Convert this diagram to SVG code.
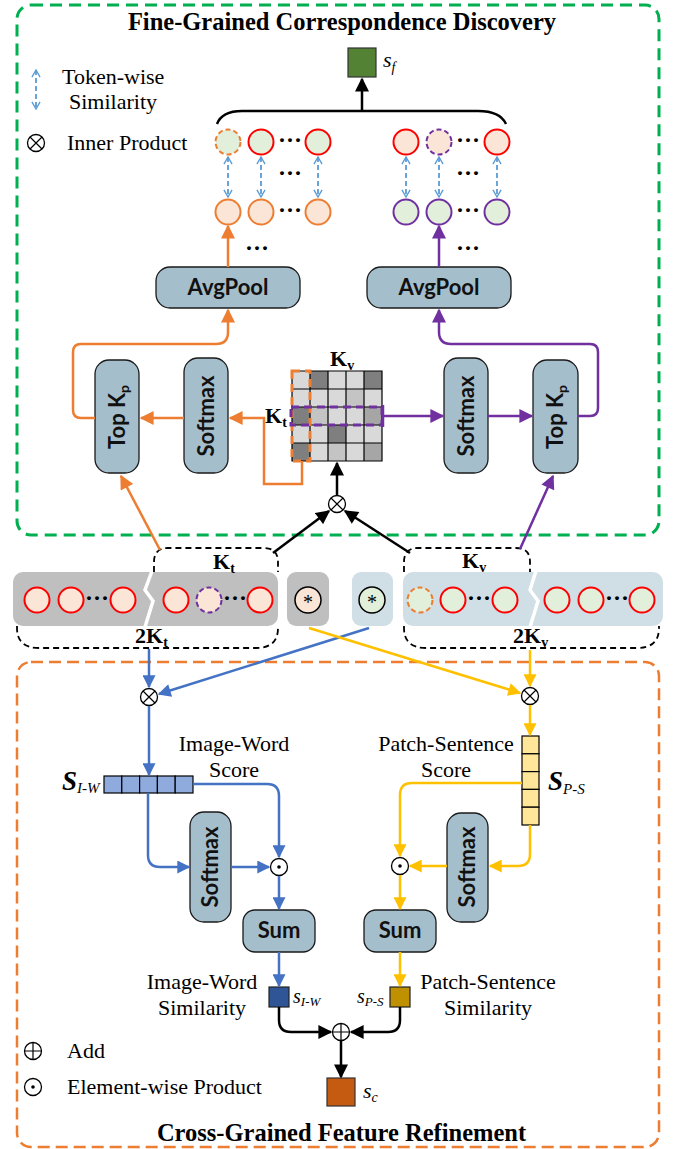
<svg xmlns="http://www.w3.org/2000/svg" width="683" height="1149" viewBox="0 0 683 1149">
<defs>
<style>
.sf{font-family:"Liberation Serif","Times New Roman",serif;fill:#000}
.lb{font-size:22px}
.ti{font-size:24.5px;font-weight:bold}
.kb{font-size:22px;font-weight:bold}
.it{font-style:italic}
.box{fill:#A5BECB;stroke:#1a1a1a;stroke-width:1.3}
.bt{font-family:Lato,"Open Sans","Liberation Sans",sans-serif;font-weight:bold;font-size:22px;fill:#111}
.dots{font-family:"Liberation Serif",serif;font-weight:bold;font-size:24px;fill:#000}
.c{stroke-width:2}
.red{stroke:#FF0000}
.org{stroke:#ED7D31}
.pur{stroke:#7030A0}
.dash{stroke-dasharray:5 3}
.gf{fill:#E2EFDA}
.pf{fill:#FBE5D6}
.tw{stroke:#5B9BD5;stroke-width:1.8;stroke-dasharray:5 3;fill:none;marker-start:url(#ch);marker-end:url(#ch)}
.lo{stroke:#ED7D31;stroke-width:2.5;fill:none}
.lp{stroke:#7030A0;stroke-width:2.5;fill:none}
.lbl2{stroke:#4472C4;stroke-width:2.5;fill:none}
.ly{stroke:#FFC000;stroke-width:2.5;fill:none}
.lk{stroke:#000;stroke-width:2.5;fill:none}
.kd{stroke:#000;stroke-width:1.8;stroke-dasharray:6 4;fill:none}
.cl{fill:#D9D9D9}.cd{fill:#7F7F7F}.cm{fill:#C4C4C4}.ca{fill:#A6A6A6}
.grid{fill:none;stroke:#000;stroke-width:1.2}
</style>
<marker id="aO" viewBox="0 0 10 10" refX="9" refY="5" markerWidth="15" markerHeight="14" markerUnits="userSpaceOnUse" orient="auto"><path d="M0,0L10,5L0,10z" fill="#ED7D31"/></marker>
<marker id="aP" viewBox="0 0 10 10" refX="9" refY="5" markerWidth="15" markerHeight="14" markerUnits="userSpaceOnUse" orient="auto"><path d="M0,0L10,5L0,10z" fill="#7030A0"/></marker>
<marker id="aB" viewBox="0 0 10 10" refX="9" refY="5" markerWidth="15" markerHeight="13" markerUnits="userSpaceOnUse" orient="auto"><path d="M0,0L10,5L0,10z" fill="#4472C4"/></marker>
<marker id="aY" viewBox="0 0 10 10" refX="9" refY="5" markerWidth="15" markerHeight="13" markerUnits="userSpaceOnUse" orient="auto"><path d="M0,0L10,5L0,10z" fill="#FFC000"/></marker>
<marker id="aK" viewBox="0 0 10 10" refX="9" refY="5" markerWidth="15" markerHeight="14" markerUnits="userSpaceOnUse" orient="auto"><path d="M0,0L10,5L0,10z" fill="#000"/></marker>
<marker id="ch" viewBox="0 0 10 10" refX="9" refY="5" markerWidth="9" markerHeight="14" markerUnits="userSpaceOnUse" orient="auto-start-reverse"><path d="M1,0.5L9,5L1,9.5" fill="none" stroke="#5B9BD5" stroke-width="1.5"/></marker>
<g id="otimes"><circle r="8.5" fill="#fff" stroke="#000" stroke-width="1.3"/><path d="M-6,-6L6,6M6,-6L-6,6" stroke="#000" stroke-width="1.2"/></g>
<g id="oplus"><circle r="8.5" fill="#fff" stroke="#000" stroke-width="1.3"/><path d="M-8.5,0H8.5M0,-8.5V8.5" stroke="#000" stroke-width="1.2"/></g>
<g id="odot"><circle r="8.5" fill="#fff" stroke="#000" stroke-width="1.3"/><circle r="1.8" fill="#000"/></g>
</defs>

<rect x="0" y="0" width="683" height="1149" fill="#fff"/>

<g id="fine-grained-frame">
<rect x="17" y="5" width="642" height="530" rx="14" fill="none" stroke="#00B050" stroke-width="3" stroke-dasharray="12 7"/>
<text class="sf ti" x="342" y="30" text-anchor="middle">Fine-Grained Correspondence Discovery</text>
</g>
<g id="cross-grained-frame">
<rect x="17" y="662" width="642" height="485" rx="14" fill="none" stroke="#ED7D31" stroke-width="2.5" stroke-dasharray="12 6"/>
<text class="sf ti" x="341.5" y="1141" text-anchor="middle">Cross-Grained Feature Refinement</text>
</g>

<g id="legend-top">
<line class="tw" x1="36" y1="70" x2="36" y2="109"/>
<text class="sf lb" x="62" y="84">Token-wise</text>
<text class="sf lb" x="69" y="109">Similarity</text>
<use href="#otimes" x="36" y="143"/>
<text class="sf lb" x="67" y="150">Inner Product</text>
</g>

<g id="sf-score">
<rect x="348" y="48" width="28" height="29" fill="#548235" stroke="#333" stroke-width="1.2"/>
<text class="sf it" x="383" y="67" font-size="22">s<tspan font-size="14" dy="5">f</tspan></text>
</g>

<g id="brace">
<path d="M217,124 Q222,111 242,111 L478,111 Q500,111 506,124" fill="none" stroke="#000" stroke-width="2.5"/>
</g>

<g id="tokens-top-left">
<circle class="c org dash gf" cx="228" cy="142" r="12.5"/>
<circle class="c red gf" cx="261" cy="142" r="12.5"/>
<circle class="c red gf" cx="318" cy="142" r="12.5"/>
<text class="dots" x="290" y="148" text-anchor="middle">···</text>
<text class="dots" x="290" y="181" text-anchor="middle">···</text>
<circle class="c org pf" cx="228" cy="212" r="12.5"/>
<circle class="c org pf" cx="261" cy="212" r="12.5"/>
<circle class="c org pf" cx="318" cy="212" r="12.5"/>
<text class="dots" x="290" y="218" text-anchor="middle">···</text>
<line class="tw" x1="228" y1="157" x2="228" y2="197"/>
<line class="tw" x1="261" y1="157" x2="261" y2="197"/>
<line class="tw" x1="318" y1="157" x2="318" y2="197"/>
</g>
<g id="tokens-top-right">
<circle class="c red pf" cx="406" cy="142" r="12.5"/>
<circle class="c pur dash pf" cx="439" cy="142" r="12.5"/>
<circle class="c red pf" cx="497" cy="142" r="12.5"/>
<text class="dots" x="468" y="148" text-anchor="middle">···</text>
<text class="dots" x="468" y="181" text-anchor="middle">···</text>
<circle class="c pur gf" cx="406" cy="212" r="12.5"/>
<circle class="c pur gf" cx="439" cy="212" r="12.5"/>
<circle class="c pur gf" cx="497" cy="212" r="12.5"/>
<text class="dots" x="468" y="218" text-anchor="middle">···</text>
<line class="tw" x1="406" y1="157" x2="406" y2="197"/>
<line class="tw" x1="439" y1="157" x2="439" y2="197"/>
<line class="tw" x1="497" y1="157" x2="497" y2="197"/>
</g>

<g id="avgpool-left">
<rect class="box" x="156" y="267" width="144" height="41" rx="14"/>
<text class="bt" x="228" y="295" text-anchor="middle">AvgPool</text>
<text class="dots" x="257" y="256" text-anchor="middle">···</text>
</g>
<g id="avgpool-right">
<rect class="box" x="367" y="267" width="144" height="41" rx="14"/>
<text class="bt" x="439" y="295" text-anchor="middle">AvgPool</text>
<text class="dots" x="468" y="256" text-anchor="middle">···</text>
</g>

<g id="topk-left">
<rect class="box" x="95" y="360" width="44" height="113" rx="14"/>
<text class="bt" transform="translate(117,417) rotate(-90)" text-anchor="middle" y="7.5">Top K<tspan font-size="14" dy="4">p</tspan></text>
</g>
<g id="softmax-left">
<rect class="box" x="184" y="358" width="44" height="115" rx="14"/>
<text class="bt" transform="translate(206,416) rotate(-90)" text-anchor="middle" y="7.5">Softmax</text>
</g>
<g id="softmax-right">
<rect class="box" x="444" y="358" width="44" height="115" rx="14"/>
<text class="bt" transform="translate(466,416) rotate(-90)" text-anchor="middle" y="7.5">Softmax</text>
</g>
<g id="topk-right">
<rect class="box" x="533" y="360" width="45" height="113" rx="14"/>
<text class="bt" transform="translate(555.5,417) rotate(-90)" text-anchor="middle" y="7.5">Top K<tspan font-size="14" dy="4">p</tspan></text>
</g>

<g id="sim-matrix">
<rect class="cl" x="292" y="371" width="18" height="18"/><rect class="cd" x="310" y="371" width="18" height="18"/><rect class="cl" x="328" y="371" width="18" height="18"/><rect class="cl" x="346" y="371" width="18" height="18"/><rect class="cd" x="364" y="371" width="18" height="18"/>
<rect class="cl" x="292" y="389" width="18" height="18"/><rect class="cl" x="310" y="389" width="18" height="18"/><rect class="cl" x="328" y="389" width="18" height="18"/><rect class="cm" x="346" y="389" width="18" height="18"/><rect class="cl" x="364" y="389" width="18" height="18"/>
<rect class="cd" x="292" y="407" width="18" height="18"/><rect class="cm" x="310" y="407" width="18" height="18"/><rect class="cl" x="328" y="407" width="18" height="18"/><rect class="cl" x="346" y="407" width="18" height="18"/><rect class="ca" x="364" y="407" width="18" height="18"/>
<rect class="cl" x="292" y="425" width="18" height="18"/><rect class="cl" x="310" y="425" width="18" height="18"/><rect class="cd" x="328" y="425" width="18" height="18"/><rect class="cl" x="346" y="425" width="18" height="18"/><rect class="cl" x="364" y="425" width="18" height="18"/>
<rect class="cd" x="292" y="443" width="18" height="18"/><rect class="cl" x="310" y="443" width="18" height="18"/><rect class="cm" x="328" y="443" width="18" height="18"/><rect class="cl" x="346" y="443" width="18" height="18"/><rect class="ca" x="364" y="443" width="18" height="18"/>
<path class="grid" d="M292,371H382V461H292Z M292,389H382 M292,407H382 M292,425H382 M292,443H382 M310,371V461 M328,371V461 M346,371V461 M364,371V461"/>
<rect x="292" y="371" width="18" height="90" fill="none" stroke="#ED7D31" stroke-width="3" stroke-dasharray="8 5"/>
<rect x="291" y="407" width="91" height="18" fill="none" stroke="#7030A0" stroke-width="3" stroke-dasharray="8 5"/>
<line x1="383" y1="405" x2="383" y2="427" stroke="#7030A0" stroke-width="2.5"/>
<text class="sf kb" x="330" y="366">K<tspan font-size="14" dy="4">v</tspan></text>
<text class="sf kb" x="265" y="423">K<tspan font-size="14" dy="4">t</tspan></text>
</g>

<g id="inner-product-top"><use href="#otimes" x="337" y="504"/></g>

<g id="text-tokens">
<rect x="13" y="572" width="265" height="54" rx="10" fill="#BFBFBF"/>
<polyline points="152,571 145,590 153,601 145,627" fill="none" stroke="#fff" stroke-width="3.5"/>
<circle class="c red pf" cx="37" cy="600" r="12.5"/>
<circle class="c red pf" cx="71" cy="600" r="12.5"/>
<circle class="c red pf" cx="123" cy="600" r="12.5"/>
<text class="dots" x="97" y="606" text-anchor="middle">···</text>
<circle class="c red pf" cx="176" cy="600" r="12.5"/>
<circle class="c pur dash pf" cx="209" cy="600" r="12.5"/>
<circle class="c red pf" cx="260" cy="600" r="12.5"/>
<text class="dots" x="235" y="606" text-anchor="middle">···</text>
<path class="kd" d="M154,572 V562 Q154,548 168,548 H264 Q278,548 278,562 V572"/>
<path class="kd" d="M17,626 V628 Q17,648 39,648 H256 Q278,648 278,628 V626"/>
<text class="sf kb" x="213" y="569">K<tspan font-size="14" dy="4">t</tspan></text>
<text class="sf kb" x="135" y="643">2K<tspan font-size="14" dy="4">t</tspan></text>
</g>
<g id="text-global">
<rect x="287" y="572" width="42" height="54" rx="9" fill="#BFBFBF"/>
<circle cx="308" cy="600" r="13" fill="#FBE5D6" stroke="#000" stroke-width="1.5"/>
<text class="sf" x="308" y="609" font-size="20" text-anchor="middle">*</text>
</g>
<g id="visual-global">
<rect x="352" y="572" width="41" height="54" rx="9" fill="#D0DEE6"/>
<circle cx="372" cy="600" r="13" fill="#E2EFDA" stroke="#000" stroke-width="1.5"/>
<text class="sf" x="372" y="609" font-size="20" text-anchor="middle">*</text>
</g>
<g id="visual-tokens">
<rect x="403" y="572" width="260" height="54" rx="10" fill="#D0DEE6"/>
<polyline points="536,571 530,590 538,601 530,627" fill="none" stroke="#fff" stroke-width="3.5"/>
<circle class="c org dash gf" cx="420" cy="600" r="12.5"/>
<circle class="c red gf" cx="453" cy="600" r="12.5"/>
<circle class="c red gf" cx="505" cy="600" r="12.5"/>
<text class="dots" x="479" y="606" text-anchor="middle">···</text>
<circle class="c red gf" cx="557" cy="600" r="12.5"/>
<circle class="c red gf" cx="591" cy="600" r="12.5"/>
<circle class="c red gf" cx="642" cy="600" r="12.5"/>
<text class="dots" x="617" y="606" text-anchor="middle">···</text>
<path class="kd" d="M404,572 V562 Q404,548 418,548 H516 Q530,548 530,562 V572"/>
<path class="kd" d="M404,626 V628 Q404,648 426,648 H637 Q659,648 659,628 V626"/>
<text class="sf kb" x="462" y="568">K<tspan font-size="14" dy="4">v</tspan></text>
<text class="sf kb" x="513" y="643">2K<tspan font-size="14" dy="4">v</tspan></text>
</g>

<g id="inner-product-iw"><use href="#otimes" x="149" y="697"/></g>
<g id="inner-product-ps"><use href="#otimes" x="530" y="696"/></g>

<g id="score-iw">
<rect x="104" y="776" width="17.8" height="17" fill="#8FAADC" stroke="#000" stroke-width="1.2"/>
<rect x="121.8" y="776" width="17.8" height="17" fill="#8FAADC" stroke="#000" stroke-width="1.2"/>
<rect x="139.6" y="776" width="17.8" height="17" fill="#8FAADC" stroke="#000" stroke-width="1.2"/>
<rect x="157.4" y="776" width="17.8" height="17" fill="#8FAADC" stroke="#000" stroke-width="1.2"/>
<rect x="175.2" y="776" width="17.8" height="17" fill="#8FAADC" stroke="#000" stroke-width="1.2"/>
<text class="sf it" x="62" y="790" font-size="27" font-weight="bold">S<tspan font-size="15" font-weight="normal" dy="3">I-W</tspan></text>
<text class="sf lb" x="234" y="751" text-anchor="middle">Image-Word</text>
<text class="sf lb" x="234" y="777" text-anchor="middle">Score</text>
</g>
<g id="score-ps">
<rect x="522" y="736" width="17" height="17.8" fill="#FFE699" stroke="#000" stroke-width="1.2"/>
<rect x="522" y="753.8" width="17" height="17.8" fill="#FFE699" stroke="#000" stroke-width="1.2"/>
<rect x="522" y="771.6" width="17" height="17.8" fill="#FFE699" stroke="#000" stroke-width="1.2"/>
<rect x="522" y="789.4" width="17" height="17.8" fill="#FFE699" stroke="#000" stroke-width="1.2"/>
<rect x="522" y="807.2" width="17" height="17.8" fill="#FFE699" stroke="#000" stroke-width="1.2"/>
<text class="sf it" x="548" y="790" font-size="27" font-weight="bold">S<tspan font-size="15" font-weight="normal" dy="4">P-S</tspan></text>
<text class="sf lb" x="446" y="751" text-anchor="middle">Patch-Sentence</text>
<text class="sf lb" x="446" y="777" text-anchor="middle">Score</text>
</g>

<g id="softmax-iw">
<rect class="box" x="190" y="812" width="41" height="110" rx="14"/>
<text class="bt" transform="translate(210.5,867) rotate(-90)" text-anchor="middle" y="7.5">Softmax</text>
</g>
<g id="softmax-ps">
<rect class="box" x="447" y="813" width="41" height="109" rx="14"/>
<text class="bt" transform="translate(467.5,867) rotate(-90)" text-anchor="middle" y="7.5">Softmax</text>
</g>
<g id="eprod-iw"><use href="#odot" x="279" y="867"/></g>
<g id="eprod-ps"><use href="#odot" x="400" y="866"/></g>
<g id="sum-iw">
<rect class="box" x="243" y="910" width="72" height="42" rx="12"/>
<text class="bt" x="279" y="938" text-anchor="middle">Sum</text>
</g>
<g id="sum-ps">
<rect class="box" x="364" y="910" width="72" height="42" rx="12"/>
<text class="bt" x="400" y="938" text-anchor="middle">Sum</text>
</g>
<g id="sim-iw">
<rect x="269" y="987" width="20" height="20" fill="#2F5597" stroke="#222" stroke-width="1.2"/>
<text class="sf it" x="293" y="1003" font-size="20">s<tspan font-size="13" dy="3">I-W</tspan></text>
<text class="sf lb" x="202" y="989" text-anchor="middle">Image-Word</text>
<text class="sf lb" x="202" y="1015" text-anchor="middle">Similarity</text>
</g>
<g id="sim-ps">
<rect x="390" y="987" width="20" height="20" fill="#BF9000" stroke="#222" stroke-width="1.2"/>
<text class="sf it" x="357" y="1003" font-size="20">s<tspan font-size="13" dy="3">P-S</tspan></text>
<text class="sf lb" x="488" y="989" text-anchor="middle">Patch-Sentence</text>
<text class="sf lb" x="488" y="1015" text-anchor="middle">Similarity</text>
</g>
<g id="add"><use href="#oplus" x="341" y="1032"/></g>
<g id="sc-score">
<rect x="327" y="1078" width="28" height="28" fill="#C55A11" stroke="#333" stroke-width="1.2"/>
<text class="sf it" x="363" y="1098" font-size="22">s<tspan font-size="14" dy="4">c</tspan></text>
</g>
<g id="legend-bottom">
<use href="#oplus" x="33" y="1051"/>
<text class="sf lb" x="67" y="1058">Add</text>
<use href="#odot" x="33" y="1087"/>
<text class="sf lb" x="67" y="1094">Element-wise Product</text>
</g>

<g id="connectors">
<path class="lk" d="M362,111 V79" marker-end="url(#aK)" stroke-width="3"/>
<path class="lo" d="M228,267 V226" marker-end="url(#aO)"/>
<path class="lp" d="M439,267 V226" marker-end="url(#aP)"/>
<path class="lo" d="M95,418 H81 Q73,418 73,410 V352 Q73,344 81,344 H216 Q228,344 228,332 V310" marker-end="url(#aO)"/>
<path class="lo" d="M184,418 H141" marker-end="url(#aO)"/>
<path class="lo" d="M302,461 V484 H264 V418 H230" marker-end="url(#aO)"/>
<path class="lp" d="M384,416 H443" marker-end="url(#aP)"/>
<path class="lp" d="M488,416 H532" marker-end="url(#aP)"/>
<path class="lp" d="M578,416 H590 Q598,416 598,408 V352 Q598,344 590,344 H451 Q439,344 439,332 V310" marker-end="url(#aP)"/>
<path class="lk" d="M337,495 V463" marker-end="url(#aK)"/>
<path class="lk" d="M273,553 L329,511" marker-end="url(#aK)"/>
<path class="lk" d="M410,553 L345,511" marker-end="url(#aK)"/>
<path class="lo" d="M160,550 L121,476" marker-end="url(#aO)"/>
<path class="lp" d="M520,549 L553,476" marker-end="url(#aP)"/>
<path class="lbl2" d="M149,649 V687" marker-end="url(#aB)"/>
<path class="lbl2" d="M369,628 L159,694" marker-end="url(#aB)"/>
<path class="ly" d="M309,628 L520,693" marker-end="url(#aY)"/>
<path class="ly" d="M530,650 V686" marker-end="url(#aY)"/>
<path class="lbl2" d="M149,706 V775" marker-end="url(#aB)"/>
<path class="ly" d="M530,705 V735" marker-end="url(#aY)"/>
<path class="lbl2" d="M193,784 H267 Q279,784 279,796 V857" marker-end="url(#aB)"/>
<path class="lbl2" d="M148,793 V855 Q148,867 160,867 H189" marker-end="url(#aB)"/>
<path class="lbl2" d="M231,867 H269" marker-end="url(#aB)"/>
<path class="lbl2" d="M279,876 V909" marker-end="url(#aB)"/>
<path class="lbl2" d="M279,952 V986" marker-end="url(#aB)"/>
<path class="ly" d="M522,783 H412 Q400,783 400,795 V856" marker-end="url(#aY)"/>
<path class="ly" d="M530,825 V854 Q530,866 518,866 H490" marker-end="url(#aY)"/>
<path class="ly" d="M447,866 H410" marker-end="url(#aY)"/>
<path class="ly" d="M400,875 V909" marker-end="url(#aY)"/>
<path class="ly" d="M400,952 V986" marker-end="url(#aY)"/>
<path class="lk" d="M279,1007 V1020 Q279,1032 291,1032 H331" marker-end="url(#aK)"/>
<path class="lk" d="M400,1007 V1020 Q400,1032 388,1032 H351" marker-end="url(#aK)"/>
<path class="lk" d="M341,1041 V1077" marker-end="url(#aK)"/>
</g>
</svg>
